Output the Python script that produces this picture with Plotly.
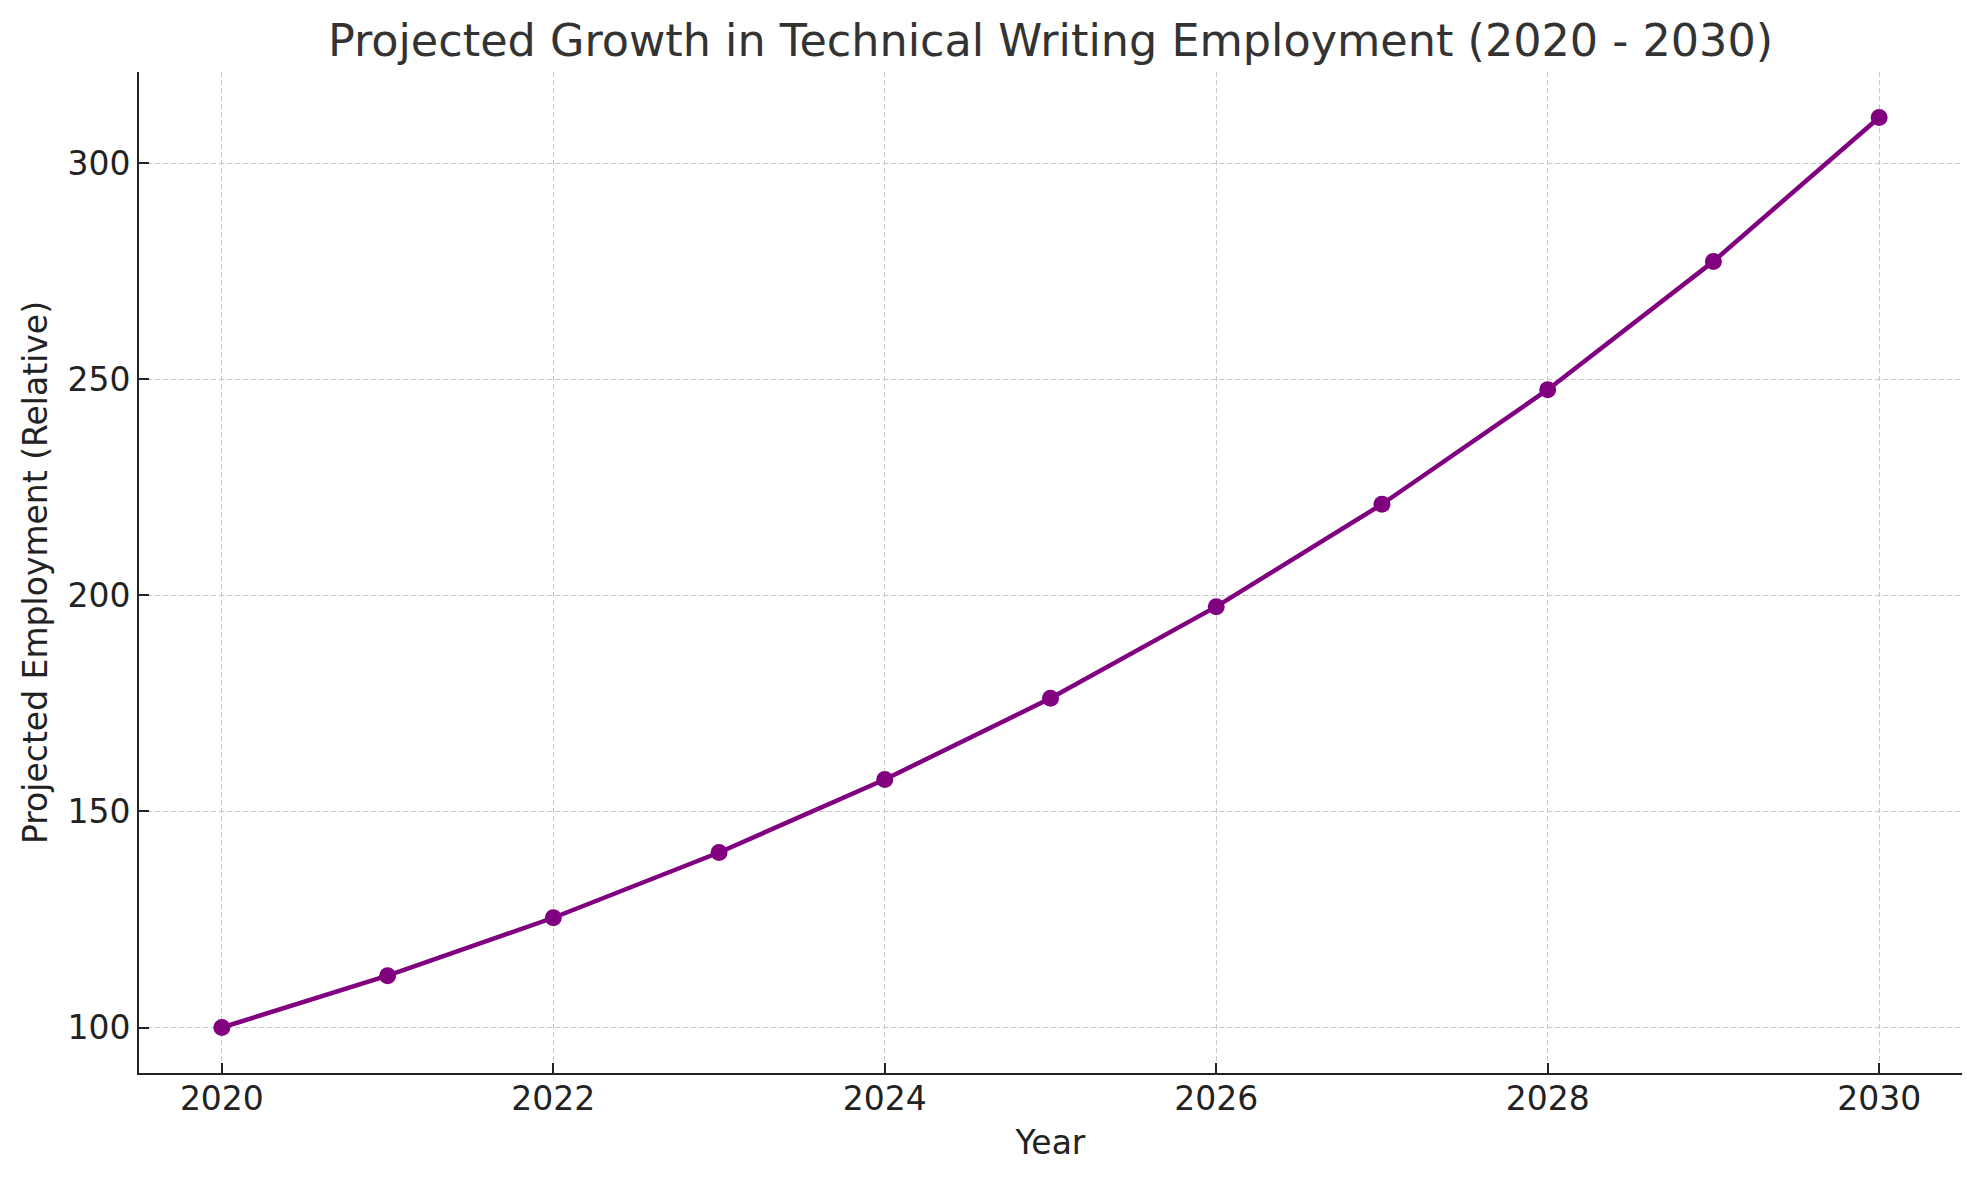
import plotly.graph_objects as go

# Datos
years = [2020, 2021, 2022, 2023, 2024, 2025, 2026, 2027, 2028, 2029, 2030]
employment = [100, 112, 125.4, 140.5, 157.4, 176.2, 197.4, 221.1, 247.6, 277.3, 310.6]

x_ticks = [2020, 2022, 2024, 2026, 2028, 2030]
y_ticks = [100, 150, 200, 250, 300]

purple = '#800080'
font = 'DejaVu Sans'

fig = go.Figure()

fig.add_trace(go.Scatter(
    x=years, y=employment, mode='lines+markers',
    line=dict(color=purple, width=4.5),
    marker=dict(color=purple, size=17),
    showlegend=False,
))

pad_y = (max(employment) - min(employment)) * 0.05

axis_style = dict(
    showline=True, linecolor='#222222', linewidth=2,
    ticks='inside', ticklen=10, tickwidth=2, tickcolor='#222222',
    showgrid=True, gridcolor='#c8c8c8', gridwidth=1, griddash='5px,3px',
    zeroline=False, mirror=False,
    tickfont=dict(family=font, size=33, color='#222222'),
)

fig.update_xaxes(
    range=[years[0] - 0.5, years[-1] + 0.5],
    tickvals=x_ticks,
    ticklabelstandoff=-5,
    title=dict(text='Year', font=dict(family=font, size=33, color='#222222'), standoff=14),
    **axis_style,
)
fig.update_yaxes(
    range=[min(employment) - pad_y, max(employment) + pad_y],
    tickvals=y_ticks,
    title=dict(text='Projected Employment (Relative)', font=dict(family=font, size=33, color='#222222'), standoff=10),
    **axis_style,
)

# la pagina deja 8px de margen en el body, se compensa aqui
fig.update_layout(
    width=1979, height=1180,
    margin=dict(l=131, r=25, t=64, b=115, autoexpand=False),
    plot_bgcolor='white', paper_bgcolor='white',
    title=dict(
        text='Projected Growth in Technical Writing Employment (2020 - 2030)',
        font=dict(family=font, size=44.5, color='#333333'),
        x=0.5, xref='paper', xanchor='center',
        y=1 - 32 / 1180, yref='container', yanchor='middle',
    ),
    font=dict(family=font),
)

fig.write_html('out.html')
